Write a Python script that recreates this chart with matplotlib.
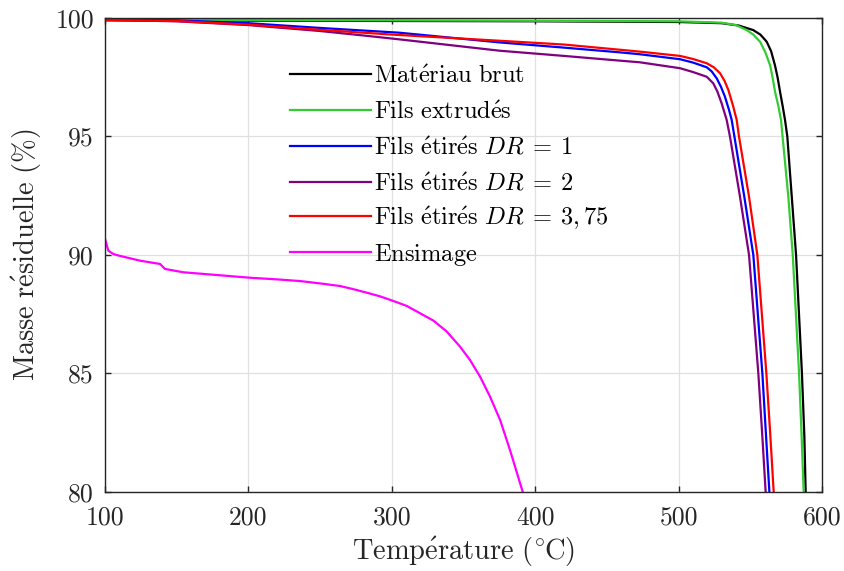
import matplotlib
matplotlib.use("Agg")
import matplotlib.pyplot as plt
from matplotlib.legend import Legend

plt.rcParams['font.family'] = ['cmr10', 'DejaVu Serif']
plt.rcParams['mathtext.fontset'] = 'cm'
plt.rcParams['axes.formatter.use_mathtext'] = True

# Data (temperature in °C, residual mass in %)
t_brut = [100, 250, 400, 500, 530, 542, 552, 557, 561.4, 564.5, 567.2, 569, 570.7,
          572.5, 574.2, 575.8, 578.9, 581.9, 586.0, 587.7, 588.6]
m_brut = [99.9, 99.88, 99.86, 99.83, 99.78, 99.68, 99.49, 99.3, 99.0, 98.6, 98.0, 97.5,
          96.9, 96.3, 95.7, 95.0, 92.46, 90.0, 85.0, 82.33, 80.0]

t_extr = [100, 300, 500, 530, 540, 547.5, 552, 556.8, 560.5, 563.8, 565.5, 567.2,
          569.5, 571.4, 572.5, 576.5, 579.6, 584.0, 585.8, 587.2]
m_extr = [99.92, 99.9, 99.86, 99.8, 99.7, 99.49, 99.3, 99.0, 98.55, 98.0, 97.5, 96.9,
          96.3, 95.7, 95.0, 92.46, 90.0, 85.0, 82.33, 80.0]

t_dr1 = [100, 150, 200, 250, 305, 375, 420, 459, 473, 501, 510, 519.6, 523, 526.5,
         529.5, 532.3, 535, 537, 538.9, 545.8, 552.1, 558.4, 561.0, 563.3]
m_dr1 = [99.93, 99.9, 99.78, 99.58, 99.38, 98.97, 98.75, 98.55, 98.47, 98.26, 98.12,
         97.92, 97.75, 97.46, 97.1, 96.68, 96.15, 95.7, 95.0, 92.46, 90.0, 85.0, 82.33,
         80.0]

t_dr2 = [100, 150, 200, 250, 282, 305, 375, 420, 459, 473, 501, 510, 519.6, 524.2,
         527, 530, 533.5, 535.8, 542.8, 549.1, 555.6, 558.4, 560.7]
m_dr2 = [99.92, 99.86, 99.7, 99.45, 99.25, 99.1, 98.62, 98.4, 98.2, 98.13, 97.88,
         97.72, 97.52, 97.24, 96.9, 96.4, 95.7, 95.0, 92.46, 90.0, 85.0, 82.33, 80.0]

t_dr375 = [100, 150, 200, 250, 300, 375, 420, 459, 473, 501, 510, 519.6, 524.5,
           528.9, 532, 534.7, 538.1, 540.5, 542.1, 549.1, 554.9, 561.2, 564.0, 566.3]
m_dr375 = [99.92, 99.87, 99.72, 99.5, 99.3, 99.04, 98.88, 98.66, 98.58, 98.4, 98.27,
           98.09, 97.92, 97.67, 97.35, 96.96, 96.26, 95.7, 95.0, 92.46, 90.0, 85.0,
           82.33, 80.0]

t_ens = [100, 102.3, 105.8, 110.5, 124.4, 138.4, 141.8, 154.6, 201.1, 220, 236, 250,
         263.9, 273, 282.5, 292, 301, 310.4, 319.7, 329, 338.3, 347.6, 354.5, 361.5,
         368.5, 375.5, 382.4, 391.3]
m_ens = [90.68, 90.18, 90.04, 89.96, 89.76, 89.62, 89.41, 89.27, 89.04, 88.97, 88.9,
         88.8, 88.69, 88.56, 88.41, 88.25, 88.06, 87.85, 87.54, 87.23, 86.77, 86.13,
         85.57, 84.87, 84.02, 83.04, 81.77, 80.0]

series = [
    (t_brut, m_brut, "#000000", r"$\mathrm{Mat\acute{e}riau\ brut}$"),
    (t_extr, m_extr, "#33cc33", r"$\mathrm{Fils\ extrud\acute{e}s}$"),
    (t_dr1, m_dr1, "#0000ff", r"$\mathrm{Fils\ \acute{e}tir\acute{e}s}\ DR\:=\:1$"),
    (t_dr2, m_dr2, "#800080", r"$\mathrm{Fils\ \acute{e}tir\acute{e}s}\ DR\:=\:2$"),
    (t_dr375, m_dr375, "#ff0000", r"$\mathrm{Fils\ \acute{e}tir\acute{e}s}\ DR\:=\:3,75$"),
    (t_ens, m_ens, "#ff00ff", r"$\mathrm{Ensimage}$"),
]

x_ticks = [100, 200, 300, 400, 500, 600]
y_ticks = [80, 85, 90, 95, 100]

fig = plt.figure(figsize=(8.45, 5.71), dpi=100)
ax = fig.add_axes([0.1243, 0.1384, 0.8485, 0.8301])

lines = []
for t, m, c, lab in series:
    ln, = ax.plot(t, m, color=c, lw=1.6, label=lab)
    lines.append(ln)

ax.set_xlim(100, 600)
ax.set_ylim(80, 100)
ax.set_xticks(x_ticks)
ax.set_yticks(y_ticks)
ax.set_xticklabels([str(v) for v in x_ticks])
ax.set_yticklabels([str(v) for v in y_ticks])
ax.grid(True, color="#e0e0e0", lw=0.9)
ax.set_axisbelow(True)

axis_col = "#262626"
for s in ax.spines.values():
    s.set_color(axis_col)
    s.set_linewidth(1.0)
ax.tick_params(direction="in", length=4, width=1.0, color=axis_col,
               labelcolor=axis_col, labelsize=18.5, top=True, right=True)
ax.tick_params(axis="x", pad=10)
ax.tick_params(axis="y", pad=8)

ax.set_xlabel(r"$\mathrm{Temp\acute{e}rature\ (^{\circ}\hspace{-0.06}C)}$", fontsize=20.5,
              color=axis_col, labelpad=4)
ax.set_ylabel(r"$\mathrm{Masse\ r\acute{e}siduelle\ (\%)}$", fontsize=20.5,
              color=axis_col, labelpad=8)

# one legend per entry so that every row gets the same spacing
row0 = 0.853
row_step = 0.0759
for i, ln in enumerate(lines):
    leg = Legend(ax, [ln], [ln.get_label()], loc="lower left",
                 bbox_to_anchor=(0.258, row0 - i * row_step), frameon=False,
                 fontsize=17.6, handlelength=3.3, handletextpad=0.15,
                 borderpad=0, borderaxespad=0)
    ax.add_artist(leg)

fig.savefig("out.png", dpi=100)
